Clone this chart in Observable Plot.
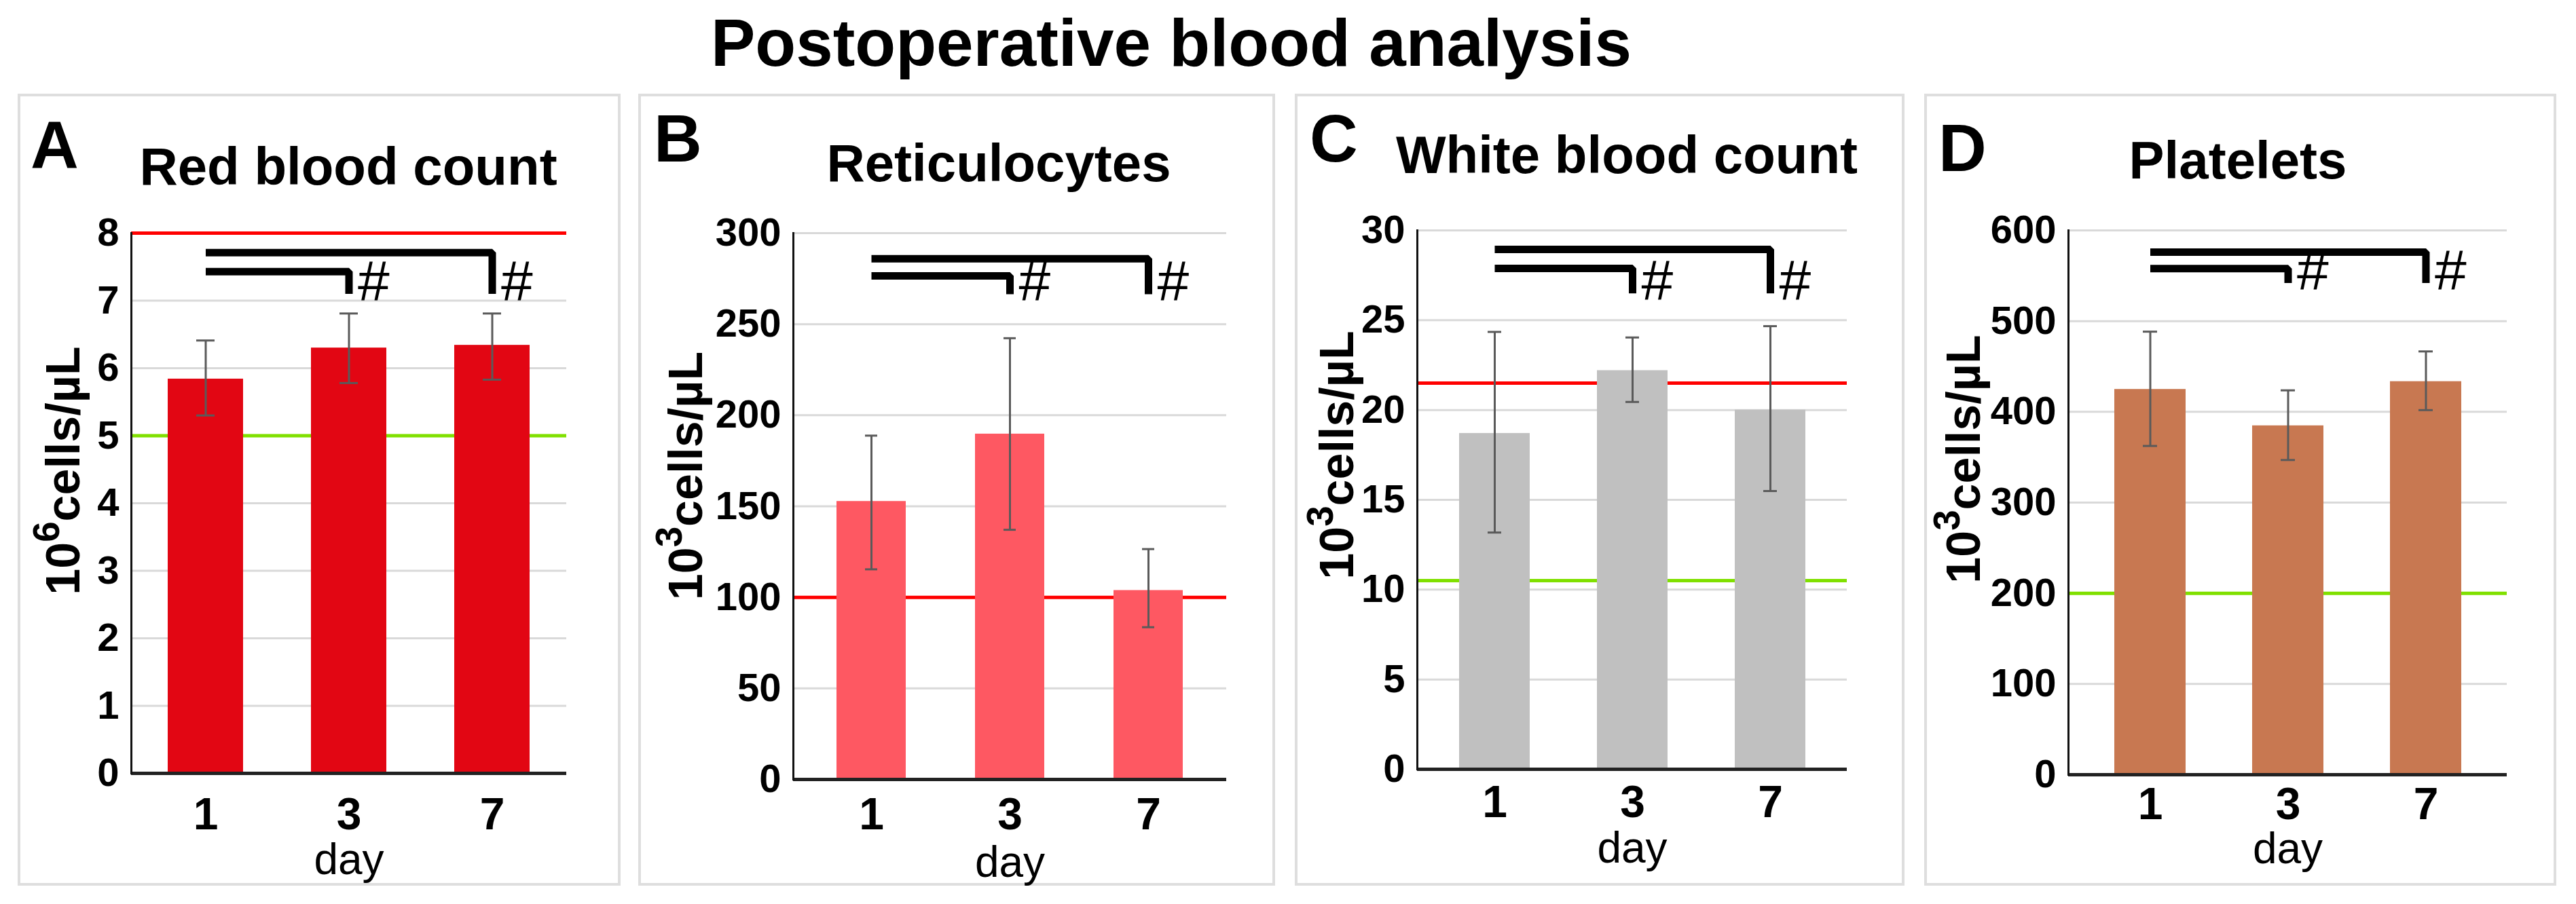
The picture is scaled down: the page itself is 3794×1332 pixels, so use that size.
<!DOCTYPE html>
<html>
<head>
<meta charset="utf-8">
<script src="https://cdn.jsdelivr.net/npm/d3@7"></script>
<script src="https://cdn.jsdelivr.net/npm/@observablehq/plot@0.6"></script>
<style>
html, body { margin: 0; padding: 0; background: #fff; }
#fig { position: relative; width: 3794px; height: 1332px; overflow: hidden;
       font-family: "Liberation Sans", Arial, sans-serif; color: #000; }
.box { position: absolute; border: 4px solid #dedede; box-sizing: border-box; }
.abs { position: absolute; white-space: nowrap; line-height: 1; }
.plotwrap { position: absolute; }
</style>
</head>
<body>
<div id="fig"></div>
<script>
// ---------------- data ----------------
const figureTitle = "Postoperative blood analysis";
const days = ["1", "3", "7"];
const panelLetters = ["A", "B", "C", "D"];
const panelTitles = ["Red blood count", "Reticulocytes", "White blood count", "Platelets"];
const unitBase = "10";
const unitExponents = ["6", "3", "3", "3"];
const unitRest = "cells/µL";
const xLabel = "day";

const rbcMean = [5.84, 6.30, 6.34];
const rbcHigh = [6.41, 6.81, 6.81];
const rbcLow  = [5.30, 5.78, 5.83];

const retMean = [152.7, 189.7, 103.8];
const retHigh = [188.8, 242.3, 126.5];
const retLow  = [115.4, 137.1, 83.6];

const wbcMean = [18.7, 22.2, 20.0];
const wbcHigh = [24.35, 24.04, 24.67];
const wbcLow  = [13.18, 20.45, 15.49];

const pltMean = [424.8, 384.7, 433.4];
const pltHigh = [488.4, 423.7, 466.6];
const pltLow  = [362.4, 346.9, 401.9];

const rbcTicks = [0, 1, 2, 3, 4, 5, 6, 7, 8];
const retTicks = [0, 50, 100, 150, 200, 250, 300];
const wbcTicks = [0, 5, 10, 15, 20, 25, 30];
const pltTicks = [0, 100, 200, 300, 400, 500, 600];

// reference range limits (upper = red line, lower = green line)
const upperLimits = [8, 100, 21.5, null];
const lowerLimits = [5, null, 10.5, 200];

// significance brackets: day 1 vs day 3 (lower), day 1 vs day 7 (upper)
const sigUpper = [7.71, 285.9, 28.94, 576];
const sigLower = [7.43, 276.5, 27.88, 558];
const sigDrop  = [7.10, 266.5, 26.5, 542];
const sigDays  = ["3", "7"];
const sigText  = "#";

const means = [rbcMean, retMean, wbcMean, pltMean];
const highs = [rbcHigh, retHigh, wbcHigh, pltHigh];
const lows  = [rbcLow, retLow, wbcLow, pltLow];
const tickSets = [rbcTicks, retTicks, wbcTicks, pltTicks];

// ---------------- styles / layout ----------------
const barColors = ["#e20613", "#fe5862", "#c0c0c0", "#c87851"];
const FONT = "Liberation Sans, Arial, sans-serif";
const SVG_TOP = 290, SVG_H = 1010;
const layout = [
  {box: [26, 138, 888, 1167], svgLeft: 31, svgWidth: 878, axisX: 193, rightX: 834, topY: 343, bottomY: 1139,
   padIn: 0.475, padOut: 0.25, xPad: 36, dayDy: 103, yLabDx: -99, yLabDy: -48, titleX: 513, titleBase: 272, letterX: 45, letterBase: 247},
  {box: [940, 138, 938, 1167], svgLeft: 945, svgWidth: 928, axisX: 1168, rightX: 1806, topY: 343, bottomY: 1148,
   padIn: 0.5, padOut: 0.31, xPad: 27, dayDy: 98, yLabDx: -157, yLabDy: -45, titleX: 1471, titleBase: 267, letterX: 963, letterBase: 238},
  {box: [1907, 138, 898, 1167], svgLeft: 1912, svgWidth: 888, axisX: 2087, rightX: 2720, topY: 339, bottomY: 1133,
   padIn: 0.488, padOut: 0.303, xPad: 24, dayDy: 92, yLabDx: -117, yLabDy: -66, titleX: 2396, titleBase: 255, letterX: 1929, letterBase: 238},
  {box: [2834, 138, 931, 1167], svgLeft: 2839, svgWidth: 921, axisX: 3046, rightX: 3692, topY: 339, bottomY: 1141,
   padIn: 0.484, padOut: 0.33, xPad: 19, dayDy: 85, yLabDx: -153, yLabDy: -64, titleX: 3296, titleBase: 263, letterX: 2855, letterBase: 252}
];

const fig = document.getElementById("fig");
const SVGNS = "http://www.w3.org/2000/svg";

function addText(txt, x, baseline, size, weight, center) {
  const d = document.createElement("div");
  d.className = "abs";
  d.textContent = txt;
  d.style.fontSize = size + "px";
  d.style.fontWeight = weight;
  d.style.top = (baseline - 0.8465 * size) + "px";
  if (center) {
    d.style.left = (x - 1000) + "px";
    d.style.width = "2000px";
    d.style.textAlign = "center";
  } else {
    d.style.left = x + "px";
  }
  fig.appendChild(d);
}

addText(figureTitle, 1725, 97, 98, "bold", true);

for (let p = 0; p < 4; p++) {
  const L = layout[p];
  const box = document.createElement("div");
  box.className = "box";
  box.style.left = L.box[0] + "px";
  box.style.top = L.box[1] + "px";
  box.style.width = L.box[2] + "px";
  box.style.height = L.box[3] + "px";
  fig.appendChild(box);

  addText(panelLetters[p], L.letterX, L.letterBase, 98, "bold", false);
  addText(panelTitles[p], L.titleX, L.titleBase, 78, "bold", true);

  const ticks = tickSets[p];
  const yMax = ticks[ticks.length - 1];
  const data = days.map((d, i) => ({day: d, mean: means[p][i], hi: highs[p][i], lo: lows[p][i]}));
  const brackets = [
    {day: days[0], y: sigLower[p], g: "a"}, {day: sigDays[0], y: sigLower[p], g: "a"}, {day: sigDays[0], y: sigDrop[p], g: "a"},
    {day: days[0], y: sigUpper[p], g: "b"}, {day: sigDays[1], y: sigUpper[p], g: "b"}, {day: sigDays[1], y: sigDrop[p], g: "b"}
  ];
  const marks = sigDays.map(d => ({day: d, y: sigDrop[p], t: sigText}));
  const gridTicks = ticks.filter(t => t > 0 && t !== upperLimits[p]);
  const unitLabel = unitBase + unitExponents[p] + unitRest;

  const marginLeft = L.axisX - L.svgLeft;
  const marginRight = L.svgLeft + L.svgWidth - L.rightX;
  const marginTop = L.topY - SVG_TOP;
  const marginBottom = SVG_TOP + SVG_H - L.bottomY;

  const markList = [
    Plot.gridY(gridTicks, {stroke: "#d9d9d9", strokeOpacity: 1, strokeWidth: 3}),
  ];
  if (upperLimits[p] != null) markList.push(Plot.ruleY([upperLimits[p]], {stroke: "#ff0000", strokeWidth: 5}));
  if (lowerLimits[p] != null) markList.push(Plot.ruleY([lowerLimits[p]], {stroke: "#80e000", strokeWidth: 5}));
  markList.push(
    Plot.barY(data, {x: "day", y: "mean", fill: barColors[p]}),
    Plot.ruleX(data, {x: "day", y1: "lo", y2: "hi", stroke: "#5a5a5a", strokeWidth: 3}),
    Plot.tickY(data, {x: "day", y: "hi", stroke: "#5a5a5a", strokeWidth: 3, insetLeft: 42, insetRight: 42}),
    Plot.tickY(data, {x: "day", y: "lo", stroke: "#5a5a5a", strokeWidth: 3, insetLeft: 42, insetRight: 42}),
    Plot.line(brackets, {x: "day", y: "y", z: "g", stroke: "#000", strokeWidth: 11, strokeLinejoin: "miter", strokeLinecap: "butt"}),
    Plot.text(marks, {x: "day", y: "y", text: "t", textAnchor: "start", lineAnchor: "bottom", dx: 13, dy: 10, fontSize: 84, fill: "#000"}),
    Plot.ruleY([0], {stroke: "#222", strokeWidth: 5}),
    Plot.frame({anchor: "left", stroke: "#111", strokeWidth: 3}),
    Plot.axisY({ticks: ticks, tickSize: 0, tickPadding: 18, fontSize: 58, fontWeight: "bold", label: null, fill: "#000"}),
    Plot.axisX({tickSize: 0, tickPadding: L.xPad, fontSize: 66, fontWeight: "bold", label: null, fill: "#000"}),
    Plot.text([xLabel], {frameAnchor: "bottom", lineAnchor: "top", dy: L.dayDy, fontSize: 64, fill: "#000"}),
    Plot.text([unitLabel], {frameAnchor: "left", rotate: -90, dx: L.yLabDx, dy: L.yLabDy, fontSize: 70, fontWeight: "bold", fill: "#000", textAnchor: "middle", lineAnchor: "middle"})
  );

  const chart = Plot.plot({
    width: L.svgWidth,
    height: SVG_H,
    marginLeft, marginRight, marginTop, marginBottom,
    style: {fontFamily: FONT, background: "transparent", overflow: "visible", color: "#000"},
    x: {domain: days, paddingInner: L.padIn, paddingOuter: L.padOut},
    y: {domain: [0, yMax]},
    marks: markList
  });

  // style the exponent of the unit label as a superscript
  chart.querySelectorAll("text").forEach(t => {
    if (t.textContent === unitLabel && t.children.length === 0) {
      t.textContent = "";
      t.appendChild(document.createTextNode(unitBase));
      const sup = document.createElementNS(SVGNS, "tspan");
      sup.setAttribute("baseline-shift", "super");
      sup.setAttribute("font-size", "78%");
      sup.textContent = unitExponents[p];
      t.appendChild(sup);
      const rest = document.createElementNS(SVGNS, "tspan");
      rest.textContent = unitRest;
      t.appendChild(rest);
    }
  });

  const wrap = document.createElement("div");
  wrap.className = "plotwrap";
  wrap.style.left = L.svgLeft + "px";
  wrap.style.top = SVG_TOP + "px";
  wrap.appendChild(chart);
  fig.appendChild(wrap);
}
</script>
</body>
</html>
